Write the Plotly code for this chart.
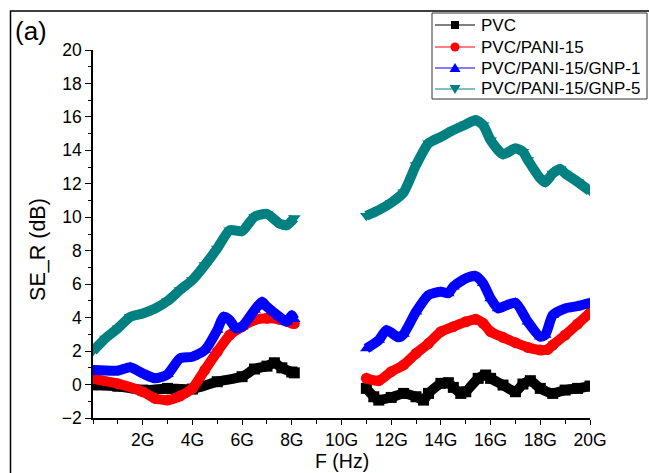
import plotly.graph_objects as go

# Frequency in GHz; two measured bands (0-8 GHz and 11-20 GHz)
pvc_f_lo = [0.0, 1.0, 2.0, 3.0, 4.0, 5.0, 6.0, 6.5, 7.0, 7.3, 7.6, 8.0, 8.1]
pvc_lo = [-0.02, -0.1, -0.33, -0.23, -0.27, 0.17, 0.47, 0.93, 1.1, 1.3, 1.0, 0.75, 0.7]
pvc_f_hi = [11.0, 11.3, 11.5, 12.0, 12.5, 13.0, 13.3, 13.5, 14.0, 14.3, 14.5, 14.8, 15.0,
            15.5, 15.8, 16.0, 16.5, 17.0, 17.3, 17.6, 18.0, 18.5, 19.0, 19.5, 20.0]
pvc_hi = [-0.23, -0.73, -0.93, -0.77, -0.53, -0.73, -0.93, -0.53, 0.07, 0.11, -0.17, -0.53, -0.43,
          0.37, 0.57, 0.37, -0.03, -0.43, 0.03, 0.23, -0.23, -0.53, -0.33, -0.23, -0.09]

pani_f_lo = [0.0, 1.0, 2.0, 2.5, 3.0, 3.5, 4.0, 4.5, 5.0, 5.5, 6.0, 6.5, 7.0, 7.5, 8.0, 8.1]
pani_lo = [0.35, 0.05, -0.43, -0.83, -0.93, -0.69, -0.23, 0.87, 1.96, 2.96, 3.46, 3.86, 3.96, 3.9, 3.67, 3.65]
pani_f_hi = [11.0, 11.5, 12.0, 12.5, 13.0, 13.5, 14.0, 14.5, 15.0, 15.4, 15.7, 16.0, 16.5,
             17.0, 17.5, 18.0, 18.3, 18.5, 19.0, 19.5, 20.0]
pani_hi = [0.37, 0.23, 0.77, 1.17, 1.86, 2.46, 3.16, 3.46, 3.75, 3.9, 3.66, 3.16, 2.82,
           2.5, 2.22, 2.06, 2.1, 2.36, 2.96, 3.62, 4.29]

gnp1_f_lo = [0.0, 1.0, 1.5, 2.0, 2.5, 3.0, 3.5, 4.0, 4.5, 5.0, 5.25, 5.5, 5.75, 6.0,
             6.5, 6.8, 7.0, 7.5, 7.8, 8.0, 8.1]
gnp1_lo = [0.87, 0.83, 1.03, 0.67, 0.37, 0.61, 1.57, 1.66, 2.06, 3.26, 4.05, 3.86, 3.36, 3.46,
           4.45, 4.95, 4.65, 4.05, 3.75, 4.15, 3.9]
gnp1_f_hi = [11.0, 11.5, 11.8, 12.0, 12.3, 12.5, 13.0, 13.5, 14.0, 14.3, 14.5, 15.0, 15.4,
             15.7, 16.0, 16.3, 16.5, 17.0, 17.5, 18.0, 18.2, 18.5, 19.0, 19.5, 20.0]
gnp1_hi = [2.16, 2.66, 3.26, 3.1, 2.82, 3.02, 4.35, 5.35, 5.55, 5.45, 5.85, 6.35, 6.49,
           6.05, 5.15, 4.55, 4.65, 4.89, 3.75, 2.86, 2.96, 4.15, 4.55, 4.69, 4.89]

gnp5_f_lo = [0.0, 0.5, 1.0, 1.5, 2.0, 2.5, 3.0, 3.5, 4.0, 4.5, 5.0, 5.5, 6.0, 6.5, 7.0,
             7.5, 7.8, 8.1]
gnp5_lo = [2.0, 2.76, 3.36, 4.05, 4.25, 4.55, 4.99, 5.65, 6.25, 7.14, 8.14, 9.23, 9.17, 10.03, 10.2,
           9.63, 9.53, 9.95]
gnp5_f_hi = [11.0, 11.5, 12.0, 12.5, 13.0, 13.5, 14.0, 14.5, 15.0, 15.4, 15.7, 16.0, 16.5,
             17.0, 17.3, 17.5, 18.0, 18.2, 18.5, 18.8, 19.0, 19.5, 20.0]
gnp5_hi = [10.09, 10.43, 10.87, 11.49, 13.12, 14.42, 14.81, 15.21, 15.55, 15.81, 15.51, 14.61, 13.76,
           14.12, 13.92, 13.42, 12.33, 12.09, 12.62, 12.88, 12.62, 12.12, 11.57]

x_tick_vals = [2, 4, 6, 8, 10, 12, 14, 16, 18, 20]
x_tick_text = ["2G", "4G", "6G", "8G", "10G", "12G", "14G", "16G", "18G", "20G"]

series = [
    ("PVC", "#000000", "square", pvc_f_lo, pvc_lo, pvc_f_hi, pvc_hi),
    ("PVC/PANI-15", "#FF0000", "circle", pani_f_lo, pani_lo, pani_f_hi, pani_hi),
    ("PVC/PANI-15/GNP-1", "#0000FF", "triangle-up", gnp1_f_lo, gnp1_lo, gnp1_f_hi, gnp1_hi),
    ("PVC/PANI-15/GNP-5", "#008080", "triangle-down", gnp5_f_lo, gnp5_lo, gnp5_f_hi, gnp5_hi),
]

FONT = "Liberation Sans, Arial"
W, H = 649, 473
M_L, M_R, M_T, M_B = 93, 59, 50, 55
PLOT_W, PLOT_H = W - M_L - M_R, H - M_T - M_B


def px(x):
    """Figure pixel column -> paper x."""
    return (x - M_L) / PLOT_W


def py(y):
    """Figure pixel row -> paper y."""
    return (H - M_B - y) / PLOT_H


fig = go.Figure()
for name, color, symbol, f_lo, v_lo, f_hi, v_hi in series:
    for f, v in ((f_lo, v_lo), (f_hi, v_hi)):
        fig.add_trace(go.Scatter(
            x=f, y=v, mode="lines+markers", showlegend=False, hoverinfo="skip",
            line=dict(color=color, width=10, shape="spline", smoothing=0.6),
            marker=dict(symbol=symbol, size=11, color=color),
        ))

# Boxed legend in the upper-right corner
shapes = [
    dict(type="rect", xref="paper", yref="paper", x0=-0.166, x1=1.2, y0=-0.4, y1=py(11),
         line=dict(color="black", width=1.5), layer="below"),
    dict(type="rect", xref="paper", yref="paper", x0=px(432), x1=px(647), y0=py(99), y1=py(13),
         line=dict(color="#333333", width=1), fillcolor="white"),
]
annotations = []
row_y = [25, 47, 68, 89]
for (name, color, symbol, *_), ry in zip(series, row_y):
    shapes.append(dict(type="line", xref="paper", yref="paper", x0=px(435), x1=px(475),
                       y0=py(ry), y1=py(ry), line=dict(color=color, width=1)))
    cx = 455
    if symbol == "square":
        shapes.append(dict(type="rect", xref="paper", yref="paper", x0=px(cx - 4), x1=px(cx + 4),
                           y0=py(ry + 4), y1=py(ry - 4), fillcolor=color, line=dict(width=0)))
    elif symbol == "circle":
        shapes.append(dict(type="circle", xref="paper", yref="paper", x0=px(cx - 4.5), x1=px(cx + 4.5),
                           y0=py(ry + 4.5), y1=py(ry - 4.5), fillcolor=color, line=dict(width=0)))
    else:
        tip, base = (ry - 5, ry + 4) if symbol == "triangle-up" else (ry + 5, ry - 4)
        path = (f"M {px(cx - 5.5)} {py(base)} L {px(cx + 5.5)} {py(base)} "
                f"L {px(cx)} {py(tip)} Z")
        shapes.append(dict(type="path", xref="paper", yref="paper", path=path,
                           fillcolor=color, line=dict(width=0)))
    annotations.append(dict(text=name, xref="paper", yref="paper", x=px(479), y=py(ry),
                            xanchor="left", yanchor="middle", showarrow=False,
                            font=dict(family=FONT, size=17, color="black")))

annotations += [
    dict(text="(a)", xref="paper", yref="paper", x=-0.161, y=1.097, xanchor="left", yanchor="top",
         showarrow=False, font=dict(family=FONT, size=26, color="black")),
    dict(text="SE_R (dB)", xref="paper", yref="paper", x=-0.111, y=0.459, textangle=-90,
         xanchor="center", yanchor="middle",
         showarrow=False, font=dict(family=FONT, size=21.5, color="black")),
    dict(text="F (Hz)", xref="paper", yref="paper", x=0.5, y=py(473), xanchor="center", yanchor="bottom",
         borderpad=0, showarrow=False, font=dict(family=FONT, size=19.5, color="black")),
]

axis_font = dict(family=FONT, size=17.5, color="black")

fig.update_layout(
    width=W, height=H,
    margin=dict(l=M_L, r=M_R, t=M_T, b=M_B, autoexpand=False),
    paper_bgcolor="white", plot_bgcolor="white",
    font=dict(family=FONT, color="black"),
    showlegend=False,
    xaxis=dict(
        range=[0, 20], showgrid=False, zeroline=False, automargin=False,
        showline=True, linecolor="black", linewidth=1.5,
        ticks="outside", ticklen=5, tickwidth=1.2, tickcolor="black",
        tickvals=x_tick_vals, ticktext=x_tick_text, tickfont=axis_font,
        minor=dict(ticks="outside", ticklen=4, tickwidth=1.2, tickcolor="black", dtick=1, tick0=0),
    ),
    yaxis=dict(
        range=[-2, 20], showgrid=False, zeroline=False, automargin=False,
        showline=True, linecolor="black", linewidth=1.5,
        ticks="outside", ticklen=6, tickwidth=1.2, tickcolor="black",
        dtick=2, tick0=0, tickfont=axis_font,
        minor=dict(ticks="outside", ticklen=3, tickwidth=1.2, tickcolor="black", dtick=1),
    ),
    shapes=shapes,
    annotations=annotations,
)

fig.write_html("out.html")
